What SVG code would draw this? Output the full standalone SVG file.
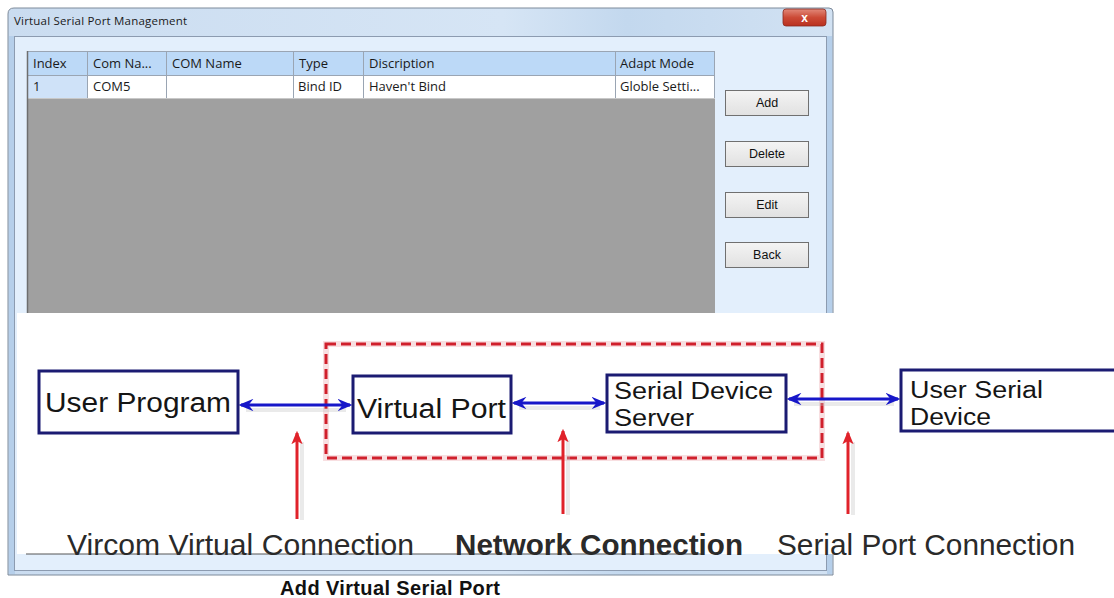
<svg xmlns="http://www.w3.org/2000/svg" width="1114" height="598" viewBox="0 0 1114 598">
<defs>
<style>
.ui{font-family:"Open Sans","Noto Sans","Liberation Sans",sans-serif;font-size:13px;fill:#1a1a1a}
.btn rect{fill:url(#btnG);stroke:#707070;stroke-width:1}
.btn text{font-family:"Liberation Sans",Arial,sans-serif;font-size:12.5px;fill:#111;text-anchor:middle}
.node rect{fill:#fff;stroke:#1b1b72;stroke-width:3}
.node text{font-family:"Liberation Sans",Arial,sans-serif;fill:#151515}
.lbl{font-family:"Liberation Sans",Arial,sans-serif;font-size:29px;fill:#2a2a2a}
.blue{stroke:#1717c9;stroke-width:3;fill:none;marker-start:url(#bs);marker-end:url(#be)}
.red{stroke:#e0222a;stroke-width:3;fill:none;marker-end:url(#re)}
.shadow{stroke:#c4c4c4;stroke-width:4;fill:none;opacity:0.35}
</style>
<linearGradient id="titleG" x1="0" y1="0" x2="1" y2="0">
<stop offset="0" stop-color="#cadcf0"/><stop offset="0.6" stop-color="#d6e5f5"/><stop offset="0.75" stop-color="#c3d8ee"/><stop offset="1" stop-color="#d2e2f3"/>
</linearGradient>
<linearGradient id="btnG" x1="0" y1="0" x2="0" y2="1">
<stop offset="0" stop-color="#f4f4f4"/><stop offset="1" stop-color="#e1e1e1"/>
</linearGradient>
<linearGradient id="closeG" x1="0" y1="0" x2="0" y2="1">
<stop offset="0" stop-color="#e2897a"/><stop offset="0.5" stop-color="#cc4a36"/><stop offset="1" stop-color="#b9301f"/>
</linearGradient>
<marker id="be" viewBox="0 0 12 10" refX="10" refY="5" markerWidth="5" markerHeight="4.2" orient="auto" markerUnits="strokeWidth">
<path d="M0,0 L12,5 L0,10 L4,5 z" fill="#1717c9"/>
</marker>
<marker id="bs" viewBox="0 0 12 10" refX="2" refY="5" markerWidth="5" markerHeight="4.2" orient="auto" markerUnits="strokeWidth">
<path d="M12,0 L0,5 L12,10 L8,5 z" fill="#1717c9"/>
</marker>
<marker id="re" viewBox="0 0 12 10" refX="10" refY="5" markerWidth="4.5" markerHeight="4" orient="auto" markerUnits="strokeWidth">
<path d="M0,0 L12,5 L0,10 L3,5 z" fill="#e0222a"/>
</marker>
</defs>
<rect x="0" y="0" width="1114" height="598" fill="#ffffff"/>

<g id="window">
<path d="M8,14 Q8,8 14,8 L829,8 Q833,8 833,12 L833,575 L8,575 Z" fill="url(#titleG)" stroke="#7d8a9a" stroke-width="1"/>
<rect x="9" y="36" width="6" height="538" fill="#b6cfea"/>
<rect x="827" y="36" width="5" height="538" fill="#b6cfea"/>
<rect x="14.5" y="36.5" width="812" height="534" fill="#e3effc" stroke="#8c9bb0" stroke-width="1"/>
<text x="14" y="25" font-family="Segoe UI,'Open Sans','Liberation Sans',sans-serif" font-size="11.5" fill="#1a1a1a" textLength="173">Virtual Serial Port Management</text>
<rect x="783" y="9" width="43" height="17" rx="3" fill="url(#closeG)" stroke="#8a2a1e" stroke-width="0.8"/>
<text x="804.5" y="22" font-family="'Liberation Sans',Arial,sans-serif" font-size="12" font-weight="bold" fill="#fff" text-anchor="middle">x</text>
</g>

<g id="table">
<rect x="27" y="98" width="688" height="215" fill="#a0a0a0"/>
<rect x="27" y="51" width="688" height="24" fill="#bcd9f7"/>
<rect x="27" y="75" width="688" height="23" fill="#ffffff"/>
<rect x="27" y="75" width="60" height="23" fill="#cfe2f8"/>
<g stroke="#9aa5b3" stroke-width="1">
<line x1="27" y1="51.5" x2="715" y2="51.5"/>
<line x1="27" y1="75.5" x2="715" y2="75.5"/>
<line x1="87.5" y1="51" x2="87.5" y2="98"/>
<line x1="166.5" y1="51" x2="166.5" y2="98"/>
<line x1="293.5" y1="51" x2="293.5" y2="98"/>
<line x1="363.5" y1="51" x2="363.5" y2="98"/>
<line x1="615.5" y1="51" x2="615.5" y2="98"/>
<line x1="714.5" y1="51" x2="714.5" y2="98"/>
<line x1="27" y1="98.5" x2="715" y2="98.5" stroke="#c8c8c8"/>
</g>
<line x1="27.5" y1="51" x2="27.5" y2="313" stroke="#6e6e6e" stroke-width="1.5"/>
<text class="ui" x="33" y="68">Index</text>
<text class="ui" x="93" y="68">Com Na...</text>
<text class="ui" x="172" y="68">COM Name</text>
<text class="ui" x="299" y="68">Type</text>
<text class="ui" x="369" y="68">Discription</text>
<text class="ui" x="620" y="68">Adapt Mode</text>
<text class="ui" x="33" y="91">1</text>
<text class="ui" x="93" y="91">COM5</text>
<text class="ui" x="298" y="91">Bind ID</text>
<text class="ui" x="369" y="91">Haven't Bind</text>
<text class="ui" x="620" y="91">Globle Setti...</text>
</g>

<g id="btn-add" class="btn"><rect x="725.5" y="90.5" width="83" height="25"/><text x="767" y="107">Add</text></g>
<g id="btn-delete" class="btn"><rect x="725.5" y="141.5" width="83" height="25"/><text x="767" y="158">Delete</text></g>
<g id="btn-edit" class="btn"><rect x="725.5" y="192.5" width="83" height="25"/><text x="767" y="209">Edit</text></g>
<g id="btn-back" class="btn"><rect x="725.5" y="242.5" width="83" height="25"/><text x="767" y="259">Back</text></g>

<g id="diagram">
<rect x="17" y="313" width="1097" height="241" fill="#ffffff"/>
<line x1="26" y1="554" x2="703" y2="554" stroke="#555" stroke-width="1"/>

<g id="group-box">
<rect x="326" y="344" width="496" height="114" fill="none" stroke="#f2c0c4" stroke-width="6" opacity="0.5"/>
<rect x="326" y="344" width="496" height="114" fill="none" stroke="#d0202c" stroke-width="3" stroke-dasharray="10,5"/>
</g>

<g id="connectors">
<line class="shadow" x1="246" y1="410" x2="346" y2="410"/>
<line class="shadow" x1="519" y1="408" x2="600" y2="408"/>
<line class="shadow" x1="794" y1="404" x2="894" y2="404"/>
<line class="shadow" x1="302" y1="520" x2="302" y2="442"/>
<line class="shadow" x1="568" y1="515" x2="568" y2="440"/>
<line class="shadow" x1="853" y1="515" x2="853" y2="442"/>
<line class="blue" x1="241" y1="405" x2="350" y2="405"/>
<line class="blue" x1="514" y1="403" x2="604" y2="403"/>
<line class="blue" x1="789" y1="399" x2="898" y2="399"/>
<line class="red" x1="297" y1="519" x2="297" y2="433"/>
<line class="red" x1="563" y1="514" x2="563" y2="431"/>
<line class="red" x1="848" y1="514" x2="848" y2="433"/>
</g>

<g id="user-program" class="node">
<rect x="39" y="371" width="199" height="62"/>
<text x="45" y="412" font-size="27" textLength="186" lengthAdjust="spacingAndGlyphs">User Program</text>
</g>
<g id="virtual-port" class="node">
<rect x="353" y="376" width="158" height="57"/>
<text x="357" y="418" font-size="27" textLength="149" lengthAdjust="spacingAndGlyphs">Virtual Port</text>
</g>
<g id="serial-device-server" class="node">
<rect x="607" y="375" width="179" height="57"/>
<text x="614" y="399" font-size="23" textLength="159" lengthAdjust="spacingAndGlyphs">Serial Device</text>
<text x="614" y="426" font-size="23" textLength="80" lengthAdjust="spacingAndGlyphs">Server</text>
</g>
<g id="user-serial-device" class="node">
<rect x="901" y="370" width="220" height="61"/>
<text x="910" y="398" font-size="23" textLength="133" lengthAdjust="spacingAndGlyphs">User Serial</text>
<text x="910" y="425" font-size="23" textLength="81" lengthAdjust="spacingAndGlyphs">Device</text>
</g>

<g id="labels">
<text class="lbl" x="67" y="555" textLength="347" lengthAdjust="spacingAndGlyphs">Vircom Virtual Connection</text>
<text class="lbl" x="455" y="555" font-weight="bold" fill="#1e1e1e" textLength="288" lengthAdjust="spacingAndGlyphs">Network Connection</text>
<text class="lbl" x="777" y="555" textLength="298" lengthAdjust="spacingAndGlyphs">Serial Port Connection</text>
</g>
</g>

<text x="390" y="595" font-family="'Liberation Sans',Arial,sans-serif" font-size="20" font-weight="bold" fill="#111" text-anchor="middle" textLength="220">Add Virtual Serial Port</text>
</svg>
